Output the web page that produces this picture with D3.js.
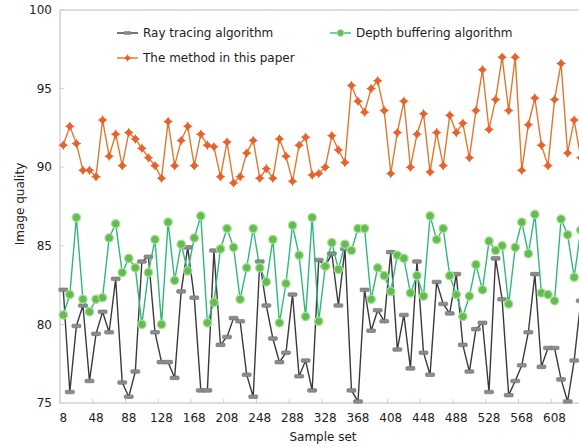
<!DOCTYPE html>
<html>
<head>
<meta charset="utf-8">
<script src="https://cdn.jsdelivr.net/npm/d3@7"></script>
<style>
  body { margin: 0; background: #fff; }
  text { font-family: "DejaVu Sans", Verdana, sans-serif; fill: #222; }
</style>
</head>
<body>
<div id="chart"></div>
<script>
// sample set categories (x axis), only every 5th one is labelled
const sampleSet = [8,16,24,32,40,48,56,64,72,80,88,96,104,112,120,128,136,144,152,160,
  168,176,184,192,200,208,216,224,232,240,248,256,264,272,280,288,296,304,312,320,
  328,336,344,352,360,368,376,384,392,400,408,416,424,432,440,448,456,464,472,480,
  488,496,504,512,520,528,536,544,552,560,568,576,584,592,600,608,616,624,632,640];
const xTickLabels = [8,48,88,128,168,208,248,288,328,368,408,448,488,528,568,608];
const yTicks = [75,80,85,90,95,100];

const rayTracing = [82.2,75.7,79.9,81.2,76.4,79.4,80.8,79.5,82.9,76.3,
  75.4,77.0,84.0,84.3,79.5,77.6,77.6,76.6,82.1,84.9,
  81.7,75.8,75.8,84.7,78.7,79.2,80.4,80.2,76.8,75.4,
  84.0,81.2,79.1,77.6,78.2,81.9,76.7,77.7,75.8,84.1,
  83.7,84.5,81.2,84.8,75.8,75.1,82.2,79.6,80.9,80.2,
  84.6,78.4,80.6,77.2,84.0,78.2,76.8,82.7,81.3,80.7,
  83.2,78.7,77.0,79.7,80.1,75.7,84.2,81.6,75.5,76.4,
  77.4,79.5,83.2,77.3,78.5,78.5,76.5,75.1,77.7,81.5];
const depthBuffering = [80.6,81.9,86.8,81.6,80.8,81.6,81.7,85.5,86.4,83.3,
  84.2,83.6,80.0,83.3,85.4,80.0,86.5,82.8,85.1,83.4,
  85.5,86.9,80.1,81.4,84.8,86.1,84.9,81.6,83.6,86.1,
  83.6,82.7,85.4,80.1,82.6,86.3,84.4,80.5,86.8,80.2,
  83.7,85.2,83.5,85.1,84.7,86.1,86.1,81.6,83.6,83.1,
  82.1,84.4,84.2,82.0,83.1,81.8,86.9,85.4,86.1,83.1,
  81.9,80.5,81.8,83.8,82.2,85.3,84.7,85.0,81.3,84.9,
  86.5,84.5,87.0,82.0,81.9,81.5,86.7,85.7,83.0,86.0];
const thisMethod = [91.4,92.6,91.5,89.8,89.8,89.4,93.0,90.7,92.1,90.1,
  92.2,91.8,91.2,90.6,90.1,89.3,92.9,90.1,91.7,92.6,
  90.1,92.1,91.4,91.3,89.4,91.6,89.0,89.4,90.9,91.7,
  89.3,89.9,89.3,91.8,90.7,89.1,91.4,91.9,89.5,89.6,
  90.0,92.0,91.1,90.3,95.2,94.2,93.5,95.0,95.5,93.6,
  89.6,92.2,94.2,90.0,92.1,93.4,89.7,92.2,90.1,93.3,
  92.2,92.8,90.6,93.6,96.2,92.4,94.3,97.0,93.6,97.0,
  89.8,92.7,94.4,91.4,90.1,94.3,96.6,90.9,93.0,90.6];

const series = [
  {name: "Ray tracing algorithm", values: rayTracing, line: "#3a3a3a", marker: "dash"},
  {name: "Depth buffering algorithm", values: depthBuffering, line: "#2fb978", marker: "circle"},
  {name: "The method in this paper", values: thisMethod, line: "#e0782f", marker: "star"}
];

const W = 579, H = 447;
const margin = {top: 10, left: 60};
const plotW = 524, plotH = 393;

const svg = d3.select("#chart").append("svg").attr("width", W).attr("height", H);
const g = svg.append("g").attr("transform", `translate(${margin.left},${margin.top})`);

const x = d3.scaleBand().domain(sampleSet).range([0, plotW]).paddingInner(0).paddingOuter(0);
const cx = d => x(d) + x.bandwidth() / 2;
const y = d3.scaleLinear().domain([75, 100]).range([plotH, 0]);

// frame
g.append("rect").attr("x", 0).attr("y", 0).attr("width", plotW).attr("height", plotH)
  .attr("fill", "none").attr("stroke", "#d4d4d4").attr("stroke-width", 1.5);

// y axis
g.selectAll(".ytick").data(yTicks).enter().append("line")
  .attr("x1", 0).attr("x2", 4).attr("y1", d => y(d)).attr("y2", d => y(d))
  .attr("stroke", "#cfcfcf");
g.selectAll(".ylab").data(yTicks).enter().append("text")
  .attr("x", -8).attr("y", d => y(d)).attr("dy", "0.35em")
  .attr("text-anchor", "end").style("font-size", "12px").text(d => d);

// x axis, tick marks between categories
const boundaries = sampleSet.filter((d, i) => i % 5 === 0);
g.selectAll(".xtick").data(boundaries).enter().append("line")
  .attr("x1", d => x(d)).attr("x2", d => x(d)).attr("y1", plotH).attr("y2", plotH - 4)
  .attr("stroke", "#cfcfcf");
g.selectAll(".xlab").data(xTickLabels).enter().append("text")
  .attr("x", d => cx(d)).attr("y", plotH + 15).attr("dy", "0.35em")
  .attr("text-anchor", "middle").style("font-size", "12px").text(d => d);

svg.append("text").attr("x", 323).attr("y", 437).attr("dy", "0.35em")
  .attr("text-anchor", "middle").style("font-size", "12px").text("Sample set");
svg.append("text").attr("transform", "translate(20,204) rotate(-90)")
  .attr("text-anchor", "middle").attr("dy", "0.35em").style("font-size", "12px").text("Image quality");

const starPath = "M0,-5 L1.6,-1.6 L5,0 L1.6,1.6 L0,5 L-1.6,1.6 L-5,0 L-1.6,-1.6 Z";

function drawMarker(sel, type) {
  if (type === "dash") {
    sel.append("rect").attr("x", -4.5).attr("y", -1.8).attr("width", 9).attr("height", 3.6)
      .attr("rx", 1).attr("fill", "#8c8c8c").attr("stroke", "#6e6e6e").attr("stroke-width", 0.6);
  } else if (type === "circle") {
    sel.append("circle").attr("r", 4.2).attr("fill", "#62bd4f")
      .attr("stroke", "#a9dd98").attr("stroke-width", 1.2);
  } else {
    sel.append("path").attr("d", starPath).attr("fill", "#e8622c");
    sel.append("circle").attr("r", 2.8).attr("fill", "#e8622c");
  }
}

const line = d3.line().x((d, i) => cx(sampleSet[i])).y(d => y(d));

series.forEach(s => {
  g.append("path").datum(s.values).attr("d", line)
    .attr("fill", "none").attr("stroke", s.line).attr("stroke-width", 1.4);
  const m = g.selectAll(null).data(s.values).enter().append("g")
    .attr("transform", (d, i) => `translate(${cx(sampleSet[i])},${y(d)})`);
  drawMarker(m, s.marker);
});

// legend
const legendPos = [{x: 117, y: 33}, {x: 330, y: 33}, {x: 117, y: 58}];
series.forEach((s, i) => {
  const lg = svg.append("g").attr("transform", `translate(${legendPos[i].x},${legendPos[i].y})`);
  lg.append("line").attr("x1", 0).attr("x2", 21).attr("stroke", s.line).attr("stroke-width", 1.4);
  const mk = lg.append("g").attr("transform", "translate(10.5,0) scale(0.8)");
  drawMarker(mk, s.marker);
  lg.append("text").attr("x", 26).attr("dy", "0.35em").style("font-size", "12px").text(s.name);
});
</script>
</body>
</html>
